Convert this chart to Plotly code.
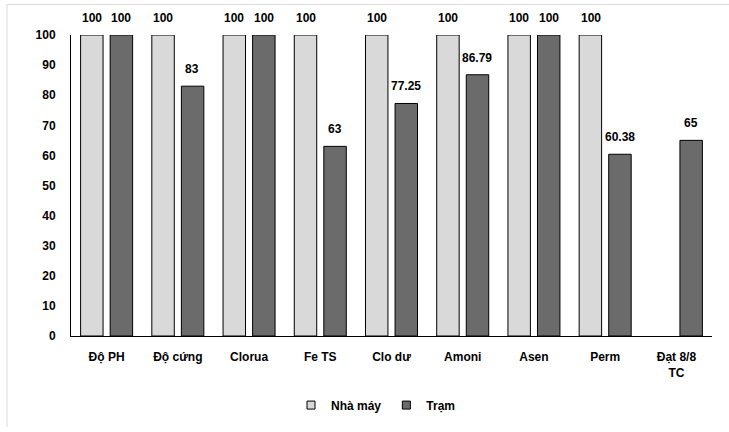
import plotly.graph_objects as go

categories = ["Độ PH", "Độ cứng", "Clorua", "Fe TS", "Clo dư", "Amoni", "Asen", "Perm", "Đạt 8/8<br>TC"]
nha_may = [100, 100, 100, 100, 100, 100, 100, 100, None]
tram = [100, 83, 100, 63, 77.25, 86.79, 100, 60.38, 65]
y_ticks = list(range(0, 101, 10))
series_names = ["Nhà máy", "Trạm"]
series_colors = ["#d9d9d9", "#6b6b6b"]

W, H = 729, 432
L, R, T, B = 71, 17, 35, 92
pw, ph = W - L - R, H - T - B

def px_x(px):
    return (px - L) / pw

def px_y(py):
    return (H - B - py) / ph

FONT = "Liberation Sans, Arial"
font = dict(family=FONT, size=12, color="black")

fig = go.Figure()
for name, vals, col in zip(series_names, [nha_may, tram], series_colors):
    fig.add_trace(go.Bar(
        x=categories, y=vals, name=name, showlegend=False,
        marker=dict(color=col, line=dict(color="black", width=1)),
    ))
    # legend proxy with small square marker
    fig.add_trace(go.Scatter(
        x=[None], y=[None], mode="markers", name="<b>%s</b>" % name,
        marker=dict(symbol="square", size=8, color=col, line=dict(color="black", width=1)),
    ))

annotations = []
for vals, shift in [(nha_may, -14.6), (tram, 14.6)]:
    for c, v in zip(categories, vals):
        if v is None:
            continue
        annotations.append(dict(
            x=c, y=v, xref="x", yref="y", text="<b>%g</b>" % v, showarrow=False,
            xshift=shift, yanchor="bottom", yshift=8,
            font=dict(family=FONT, size=12, color="black"),
        ))

fig.update_layout(
    width=W, height=H,
    margin=dict(l=L, r=R, t=T, b=B, pad=0),
    paper_bgcolor="white", plot_bgcolor="white",
    barmode="group", bargap=0.17, bargroupgap=0.24,
    font=font,
    showlegend=True,
    legend=dict(orientation="h", x=px_x(376), xanchor="center",
                y=px_y(410), yanchor="middle",
                font=font, itemwidth=30, traceorder="normal"),
    xaxis=dict(showline=True, linecolor="black", linewidth=1, showgrid=False,
               ticks="", tickfont=font, zeroline=False,
               tickvals=categories, ticktext=["<b>%s</b>" % c for c in categories],
               ticklabelstandoff=10),
    yaxis=dict(range=[0, 100], tickvals=y_ticks, ticktext=["<b>%d</b>" % v for v in y_ticks],
               showline=True, linecolor="black",
               linewidth=1, showgrid=False, ticks="", tickfont=font,
               zeroline=False, ticklabelstandoff=12),
    annotations=annotations,
    shapes=[
        dict(type="line", xref="paper", yref="paper", x0=px_x(7), x1=px_x(729),
             y0=px_y(4), y1=px_y(4), line=dict(color="#d9d9d9", width=1)),
        dict(type="line", xref="paper", yref="paper", x0=px_x(7), x1=px_x(7),
             y0=px_y(4), y1=px_y(432), line=dict(color="#d9d9d9", width=1)),
    ],
)

fig.write_html("out.html")
